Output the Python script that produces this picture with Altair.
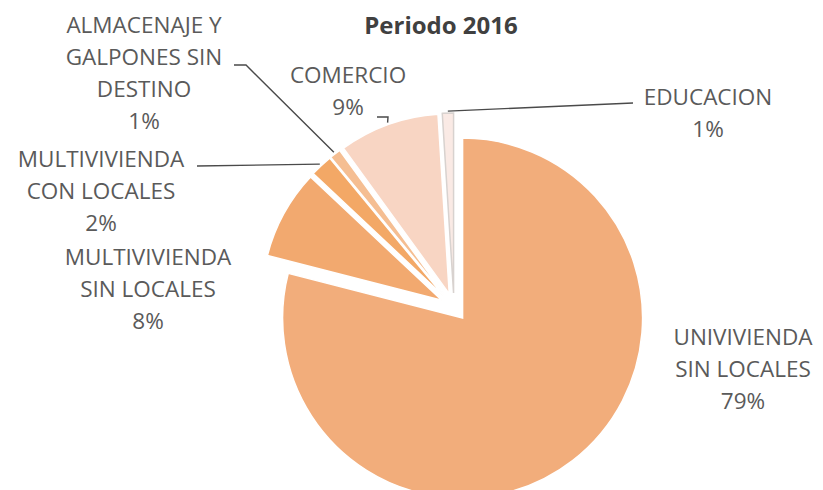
import math
import altair as alt
import pandas as pd

# ---- data ----
categories = [
    "UNIVIVIENDA SIN LOCALES",
    "MULTIVIVIENDA SIN LOCALES",
    "MULTIVIVIENDA CON LOCALES",
    "ALMACENAJE Y GALPONES SIN DESTINO",
    "COMERCIO",
    "EDUCACION",
]
values = [79, 8, 2, 1, 9, 1]
label_text = [
    "UNIVIVIENDA\nSIN LOCALES\n79%",
    "MULTIVIVIENDA\nSIN LOCALES\n8%",
    "MULTIVIVIENDA\nCON LOCALES\n2%",
    "ALMACENAJE  Y\nGALPONES  SIN\nDESTINO\n1%",
    "COMERCIO\n9%",
    "EDUCACION\n1%",
]

# ---- styling / layout ----
fills = ["#F2AD7B", "#F2A96F", "#F3A866", "#F5BE92", "#F8D5C3", "#FAEAE5"]
strokes = ["#FFFFFF", "#FFFFFF", "#FFFFFF", "#FFFFFF", "#FFFFFF", "#D8D2CF"]
label_x = [743, 148, 101, 144, 348, 708]
label_y = [345, 265, 167, 33, 83, 105]
# label-side points of the leader lines (None = no leader)
leader_label_side = [
    None,
    None,
    [(197, 166)],
    [(234, 65), (246, 65)],
    [(377, 117), (388, 117)],
    [(633, 103)],
]
CX, CY = 454, 307       # pie centre (page pixels)
R = 180                 # pie radius
EXPLODE = 14            # explosion distance of every slice
W, H = 807, 482

total = sum(values)
rows, leader_rows = [], []
acc = 0
for i, (c, v) in enumerate(zip(categories, values)):
    t0, t1 = acc, acc + v
    acc = t1
    mid = (t0 + t1) / 2 / total * 2 * math.pi
    cx = CX + EXPLODE * math.sin(mid)
    cy = CY - EXPLODE * math.cos(mid)
    rows.append(dict(cat=c, value=v, t0=t0, t1=t1, cx=cx, cy=cy,
                     fill=fills[i], stroke=strokes[i], order=i,
                     label=label_text[i], lx=label_x[i], ly=label_y[i]))
    if leader_label_side[i]:
        pts = list(leader_label_side[i])
        ex = cx + (R + 2) * math.sin(mid)
        ey = cy - (R + 2) * math.cos(mid)
        pts.append((ex, ey))
        for k, (px, py) in enumerate(pts):
            leader_rows.append(dict(cat=c, k=k, x=px, y=py))

df = pd.DataFrame(rows)
dl = pd.DataFrame(leader_rows)

xs = alt.Scale(domain=[8, 8 + W], nice=False, zero=False)
ys = alt.Scale(domain=[8 + H, 8], nice=False, zero=False)
ts = alt.Scale(domain=[0, total], range=[0, 2 * math.pi])

pie = alt.Chart(df).mark_arc(outerRadius=R, strokeWidth=1.5).encode(
    x=alt.X("cx:Q", scale=xs, axis=None),
    y=alt.Y("cy:Q", scale=ys, axis=None),
    theta=alt.Theta("t0:Q", scale=ts),
    theta2="t1:Q",
    fill=alt.Fill("fill:N", scale=None),
    stroke=alt.Stroke("stroke:N", scale=None),
    order=alt.Order("order:Q"),
)

leaders = alt.Chart(dl).mark_line(color="#4a4a4a", strokeWidth=1.4).encode(
    x=alt.X("x:Q", scale=xs, axis=None),
    y=alt.Y("y:Q", scale=ys, axis=None),
    detail="cat:N",
    order="k:Q",
)

labels = alt.Chart(df).mark_text(
    font="Open Sans", fontSize=22.5, color="#5a5a5a", align="center",
    baseline="alphabetic", lineBreak="\n", lineHeight=32,
).encode(
    x=alt.X("lx:Q", scale=xs, axis=None),
    y=alt.Y("ly:Q", scale=ys, axis=None),
    text="label:N",
)

title_df = pd.DataFrame([dict(t="Periodo 2016", x=441, y=34)])
title = alt.Chart(title_df).mark_text(
    font="Open Sans", fontSize=24, fontWeight="bold", color="#404040",
    align="center", baseline="alphabetic",
).encode(
    x=alt.X("x:Q", scale=xs, axis=None),
    y=alt.Y("y:Q", scale=ys, axis=None),
    text="t:N",
)

chart = alt.layer(pie, leaders, labels, title).properties(
    width=W, height=H, autosize=alt.AutoSizeParams(type="none"), padding=0,
).configure_view(stroke=None)

chart.save("out.html", embed_options={"renderer": "svg", "actions": False})
